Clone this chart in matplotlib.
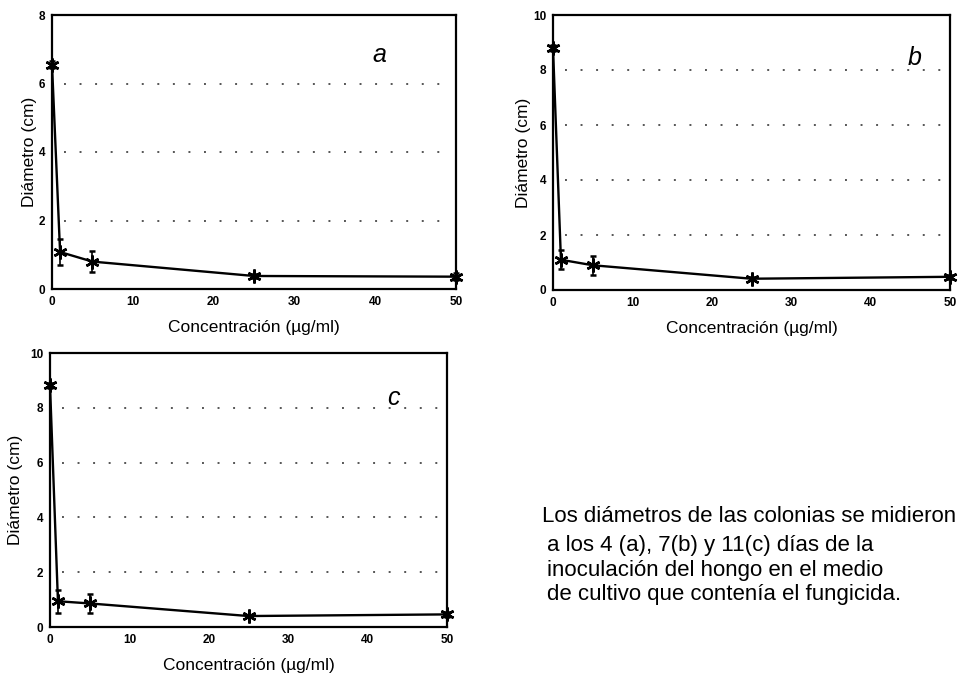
import matplotlib
matplotlib.use("Agg")
import matplotlib.pyplot as plt

plt.rcParams['font.family'] = ['Liberation Sans', 'DejaVu Sans']

conc = [0, 1, 5, 25, 50]
diam_a = [6.55, 1.08, 0.80, 0.38, 0.36]
err_a = [0.10, 0.38, 0.30, 0.05, 0.10]
diam_b = [8.80, 1.10, 0.90, 0.41, 0.48]
err_b = [0.10, 0.35, 0.35, 0.05, 0.08]
diam_c = [8.82, 0.94, 0.86, 0.40, 0.46]
err_c = [0.10, 0.42, 0.36, 0.05, 0.08]

xticks = [0, 10, 20, 30, 40, 50]
yticks_a = [0, 2, 4, 6, 8]
yticks_bc = [0, 2, 4, 6, 8, 10]

xlabel = "Concentración (µg/ml)"
ylabel = "Diámetro (cm)"
note_lines = [
    "Los diámetros de las colonias se midieron",
    "a los 4 (a), 7(b) y 11(c) días de la",
    "inoculación del hongo en el medio",
    "de cultivo que contenía el fungicida.",
]

W, H = 958, 679
fig = plt.figure(figsize=(W / 100, H / 100), dpi=100)

def px_axes(left, top, right, bottom):
    return fig.add_axes([left / W, 1 - bottom / H, (right - left) / W, (bottom - top) / H])

panels = [
    (px_axes(52, 15, 456, 289), diam_a, err_a, yticks_a, "a", (0.81, 0.855), 1),
    (px_axes(553, 15, 950, 290), diam_b, err_b, yticks_bc, "b", (0.912, 0.845), 1),
    (px_axes(50, 353, 447, 627), diam_c, err_c, yticks_bc, "c", (0.864, 0.835), 5),
]

star = (6, 2, 0)
for ax, y, e, yt, letter, lpos, ylpad in panels:
    ax.set_xlim(0, 50)
    ax.set_ylim(yt[0], yt[-1])
    for lev in yt[1:-1]:
        ax.hlines(lev, 1.5, 49.5, colors='#555555', linestyles=(0, (1, 7)), linewidth=1.4, zorder=1)
    ax.errorbar(conc, y, yerr=e, color='black', linewidth=1.7, elinewidth=1.2,
                capsize=2, capthick=1.2, marker=star, markersize=10, markeredgewidth=1.8,
                clip_on=False, zorder=3)
    ax.set_xticks(xticks)
    ax.set_yticks(yt)
    ax.tick_params(length=0, labelsize=8.5, pad=5)
    for lab in ax.get_xticklabels() + ax.get_yticklabels():
        lab.set_fontweight('bold')
    for s in ax.spines.values():
        s.set_linewidth(1.6)
    ax.set_xlabel(xlabel, fontsize=12.5, labelpad=9)
    ax.set_ylabel(ylabel, fontsize=12.5, labelpad=ylpad)
    ax.text(lpos[0], lpos[1], letter, transform=ax.transAxes, fontsize=18,
            style='italic', ha='center', va='center')

baselines = [522, 551, 576, 600]
xs = [542, 547, 547, 547]
for line, yb, xb in zip(note_lines, baselines, xs):
    fig.text(xb / W, 1 - yb / H, line, fontsize=16, va='baseline', ha='left')

fig.savefig("out.png", dpi=100)
